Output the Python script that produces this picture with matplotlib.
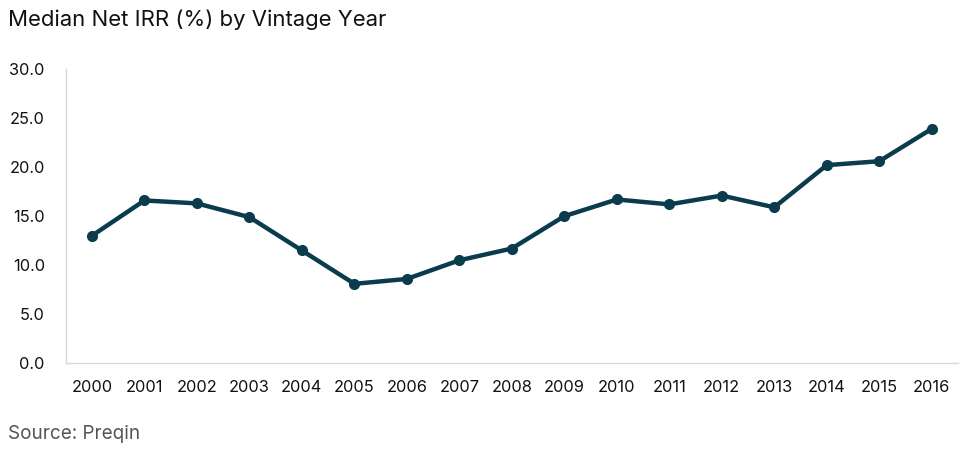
"""
Median Net IRR (%) by vintage year, line chart recreated from a Preqin figure.
"""
import matplotlib
matplotlib.use("Agg")
import matplotlib.pyplot as plt

# Data
years = ["2000", "2001", "2002", "2003", "2004", "2005", "2006", "2007", "2008",
         "2009", "2010", "2011", "2012", "2013", "2014", "2015", "2016"]
median_irr = [13.0, 16.6, 16.3, 14.9, 11.5, 8.1, 8.6, 10.5, 11.7,
              15.0, 16.7, 16.2, 17.1, 15.9, 20.2, 20.6, 23.9]
y_ticks = [0, 5, 10, 15, 20, 25, 30]

LINE_COLOR = "#0b3c4d"
FONT = ["Inter", "DejaVu Sans"]

plt.rcParams["font.family"] = FONT

fig = plt.figure(figsize=(9.63, 4.54), dpi=100)
ax = fig.add_axes([0.0682, 0.1998, 0.9266, 0.6482])

x = list(range(len(years)))
ax.plot(x, median_irr, color=LINE_COLOR, linewidth=3.2, marker="o",
        markersize=7, solid_capstyle="round", solid_joinstyle="round")

ax.set_xlim(-0.5, len(years) - 0.5)
ax.set_ylim(0, 30)
ax.set_xticks(x)
ax.set_xticklabels(years)
ax.set_yticks(y_ticks)
ax.set_yticklabels([f"{v:.1f}" for v in y_ticks])
ax.tick_params(axis="both", length=0, labelsize=11.8, colors="#111111")
ax.tick_params(axis="x", pad=12)
ax.tick_params(axis="y", pad=15)

for side in ("top", "right"):
    ax.spines[side].set_visible(False)
for side in ("left", "bottom"):
    ax.spines[side].set_color("#d9d9d9")
    ax.spines[side].set_linewidth(1)

fig.text(0.0083, 0.956, "Median Net IRR (%) by Vintage Year", fontsize=15.9,
         color="#111111", ha="left", va="center")
fig.text(0.0083, 0.044, "Source: Preqin", fontsize=13.6, color="#555555",
         ha="left", va="center")

fig.savefig("out.png", dpi=100)
